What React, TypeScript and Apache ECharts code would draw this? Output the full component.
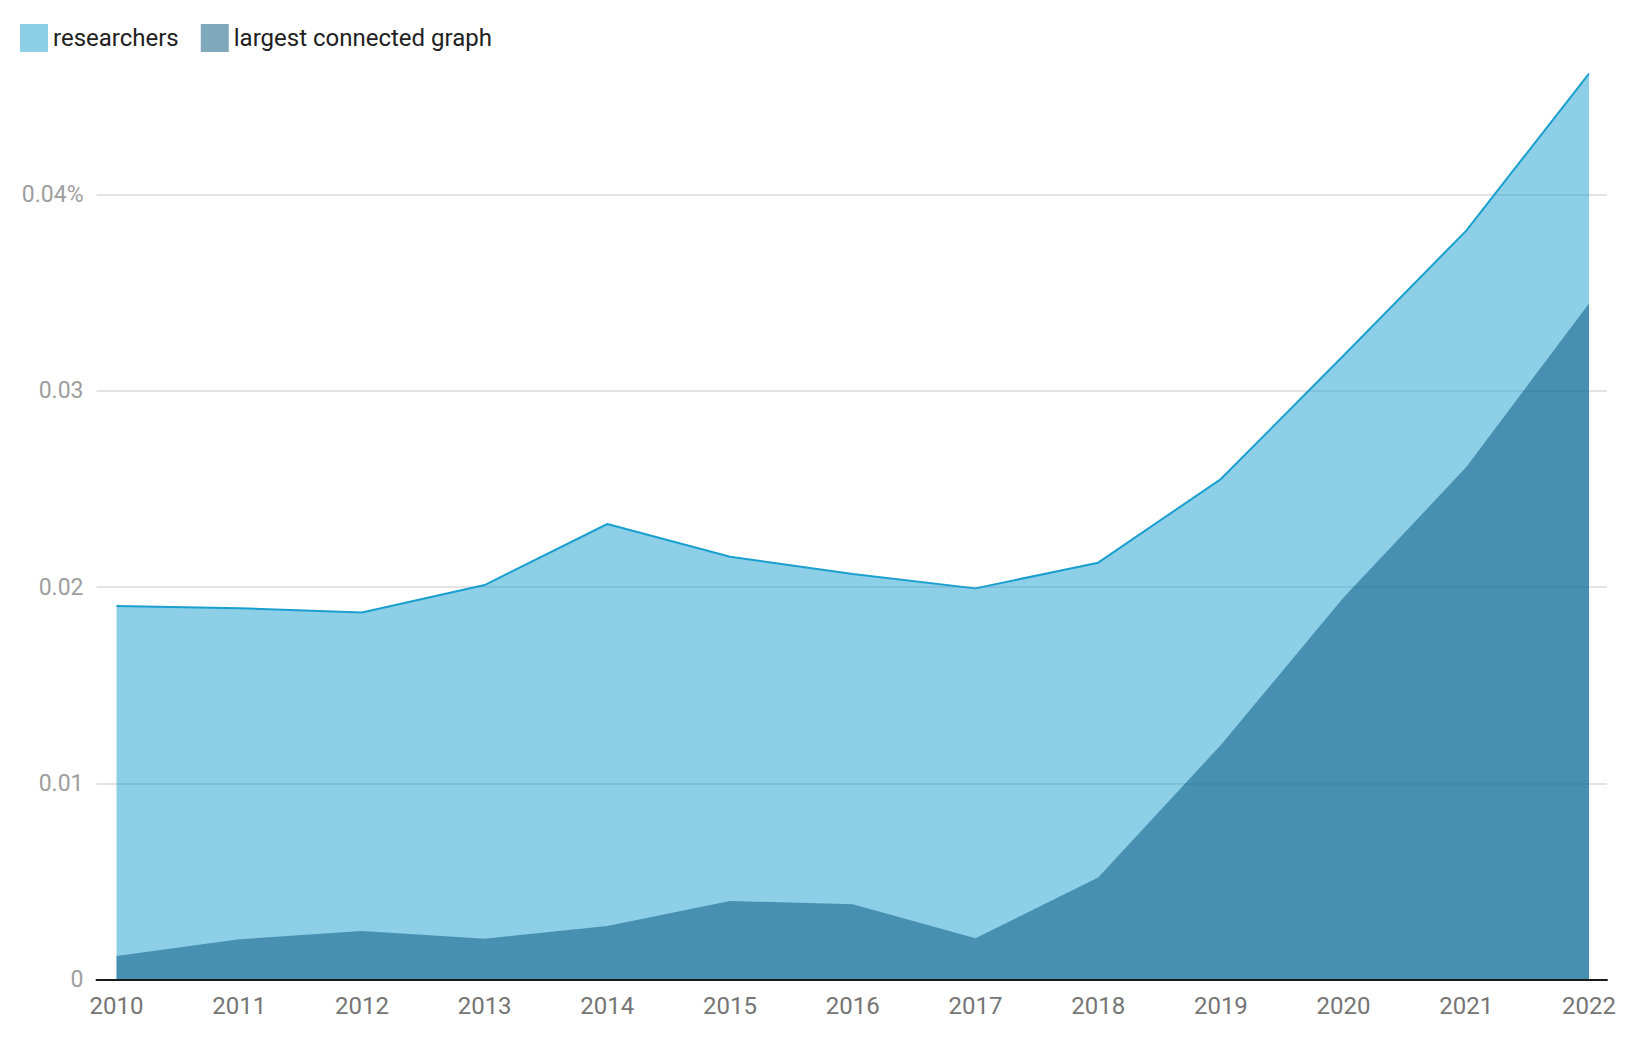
import React, { useEffect, useRef } from "react";
import * as echarts from "echarts";

const years = ["2010", "2011", "2012", "2013", "2014", "2015", "2016", "2017", "2018", "2019", "2020", "2021", "2022"];
const researchers = [0.01903, 0.01892, 0.0187, 0.0201, 0.02321, 0.02154, 0.02066, 0.01993, 0.02124, 0.0255, 0.0318, 0.03816, 0.04616];
const largestConnected = [0.0012, 0.00205, 0.00247, 0.00208, 0.00273, 0.004, 0.00383, 0.0021, 0.0052, 0.01195, 0.01946, 0.02611, 0.03445];
const yTicks = [0, 0.01, 0.02, 0.03, 0.04];
const yTickLabels = ["0", "0.01", "0.02", "0.03", "0.04%"];

export default function App() {
  const ref = useRef<HTMLDivElement>(null);
  useEffect(() => {
    document.body.style.margin = "0";
    const chart = echarts.init(ref.current!, null, { renderer: "svg" });
    const font = "Roboto";
    chart.setOption({
      animation: false,
      backgroundColor: "#ffffff",
      textStyle: { fontFamily: font },
      legend: {
        left: 20,
        top: 24,
        padding: 0,
        icon: "rect",
        itemWidth: 28,
        itemHeight: 28,
        itemGap: 22,
        textStyle: { fontSize: 24, color: "#212121", fontFamily: font },
        data: [
          { name: "researchers", itemStyle: { color: "#8dcfe7", borderWidth: 0, opacity: 1 } },
          { name: "largest connected graph", itemStyle: { color: "#80a8bd", borderWidth: 0, opacity: 1 } },
        ],
      },
      grid: [
        { left: 96.5, right: 33, top: 194.5, bottom: 60.5 },
        { left: 116.5, right: 51, top: 194.5, bottom: 60.5 },
      ],
      xAxis: [
        {
          gridIndex: 0,
          type: "value",
          min: 0,
          max: 1,
          z: 10,
          axisLine: { show: true, lineStyle: { color: "#1a1a1a", width: 2 } },
          axisTick: { show: false },
          axisLabel: { show: false },
          splitLine: { show: false },
        },
        {
          gridIndex: 1,
          type: "category",
          data: years,
          boundaryGap: false,
          axisLine: { show: false },
          axisTick: { show: false },
          splitLine: { show: false },
          axisLabel: { color: "#757575", fontSize: 24, margin: 14, fontFamily: font },
        },
      ],
      yAxis: [
        {
          gridIndex: 0,
          type: "value",
          min: 0,
          max: 0.04,
          interval: 0.01,
          axisLine: { show: false },
          axisTick: { show: false },
          splitLine: { show: true, lineStyle: { color: "#e3e3e3", width: 2 } },
          axisLabel: {
            color: "#9e9e9e",
            fontSize: 23,
            margin: 13,
            fontFamily: font,
            formatter: (v: number) => {
              const i = yTicks.findIndex((t) => Math.abs(t - v) < 1e-9);
              return i >= 0 ? yTickLabels[i] : "";
            },
          },
        },
        {
          gridIndex: 1,
          type: "value",
          min: 0,
          max: 0.04,
          show: false,
          splitLine: { show: false },
        },
      ],
      series: [
        {
          name: "researchers",
          type: "line",
          xAxisIndex: 1,
          yAxisIndex: 1,
          data: researchers,
          clip: false,
          symbol: "none",
          color: "#1a9fcf",
          lineStyle: { color: "#1a9fcf", width: 2 },
          areaStyle: { color: "#1a9fcf", opacity: 0.5 },
          z: 2,
        },
        {
          name: "largest connected graph",
          type: "line",
          xAxisIndex: 1,
          yAxisIndex: 1,
          data: largestConnected,
          clip: false,
          symbol: "none",
          color: "#01517b",
          lineStyle: { width: 0, opacity: 0 },
          areaStyle: { color: "#01517b", opacity: 0.5 },
          z: 3,
        },
      ],
    });
    return () => chart.dispose();
  }, []);
  return <div ref={ref} style={{ position: "absolute", left: 0, top: 0, width: 1640, height: 1040 }} />;
}
